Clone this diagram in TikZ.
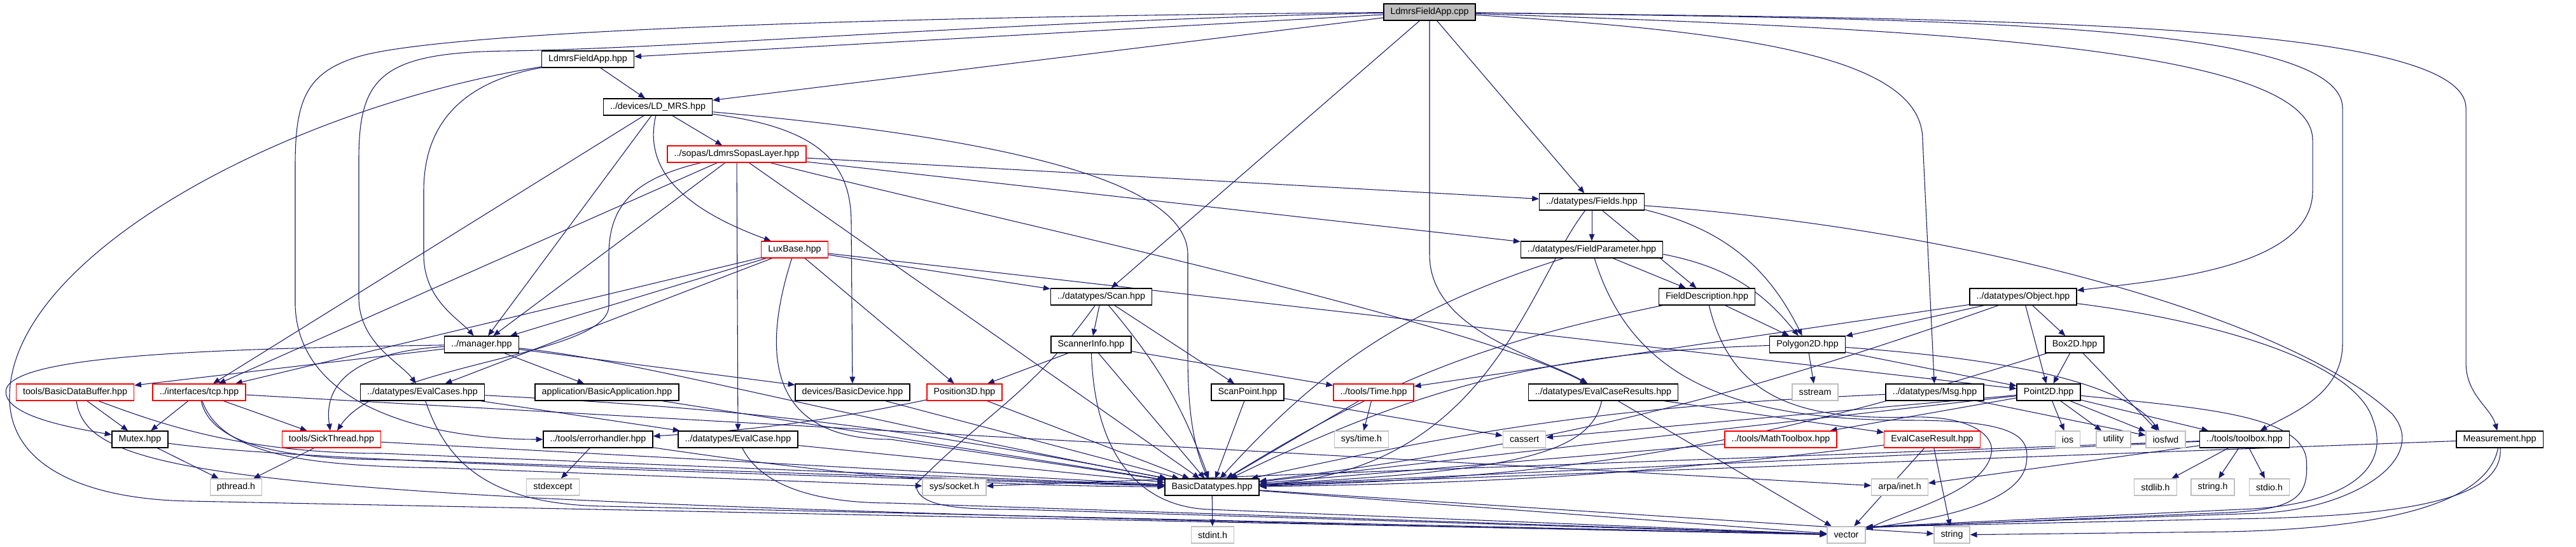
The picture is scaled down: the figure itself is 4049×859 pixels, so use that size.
\documentclass[tikz,border=0pt]{standalone}
\usepackage{fontspec}
\setmainfont{Liberation Sans}
\usetikzlibrary{arrows.meta,backgrounds}
\definecolor{edgeblue}{HTML}{191970}
\definecolor{sysgray}{HTML}{BFBFBF}

\begin{document}
\begin{tikzpicture}[->, >={Triangle[length=8pt,width=6.5pt]}, x=0.75pt, y=-0.75pt, font=\fontsize{10.7pt}{12pt}\selectfont]
	\tikzstyle{hdr}=[draw=black,fill=white,line width=1pt,inner xsep=8pt,inner ysep=0pt,minimum height=19.5pt,text=black]
	\tikzstyle{redhdr}=[hdr,draw=red]
	\tikzstyle{syshdr}=[hdr,draw=sysgray]
	\tikzstyle{roothdr}=[hdr,fill=sysgray]
	\tikzstyle{every edge}=[draw=edgeblue,line width=0.8pt]
	\tikzstyle{dep}=[draw=edgeblue,line width=0.8pt]
	\useasboundingbox (0,0) rectangle (4049,859);
	\node[roothdr]	(cpp)		at (2247,19)	{LdmrsFieldApp.cpp};
	\node[hdr]	(apphpp)	at (924,93)	{LdmrsFieldApp.hpp};
	\node[hdr]	(ldmrs)		at (1034,168)	{../devices/LD\_MRS.hpp};
	\node[redhdr]	(sopas)		at (1158,242)	{../sopas/LdmrsSopasLayer.hpp};
	\node[hdr]	(fields)	at (2502,317)	{../datatypes/Fields.hpp};
	\node[redhdr]	(luxbase)	at (1249,392)	{LuxBase.hpp};
	\node[hdr]	(fieldparam)	at (2502,392)	{../datatypes/FieldParameter.hpp};
	\node[hdr]	(scan)		at (1731,466)	{../datatypes/Scan.hpp};
	\node[hdr]	(fielddesc)	at (2683,466)	{FieldDescription.hpp};
	\node[hdr]	(object)	at (3180,466)	{../datatypes/Object.hpp};
	\node[hdr]	(manager)	at (757,541)	{../manager.hpp};
	\node[hdr]	(scannerinfo)	at (1715,541)	{ScannerInfo.hpp};
	\node[hdr]	(polygon)	at (2841,541)	{Polygon2D.hpp};
	\node[hdr]	(box)		at (3261,541)	{Box2D.hpp};
	\node[redhdr]	(databuffer)	at (118,616)	{tools/BasicDataBuffer.hpp};
	\node[redhdr]	(tcp)		at (313,616)	{../interfaces/tcp.hpp};
	\node[hdr]	(evalcases)	at (664,616)	{../datatypes/EvalCases.hpp};
	\node[hdr]	(basicapp)	at (954,616)	{application/BasicApplication.hpp};
	\node[hdr]	(basicdev)	at (1340,616)	{devices/BasicDevice.hpp};
	\node[redhdr]	(pos3d)		at (1516,616)	{Position3D.hpp};
	\node[hdr]	(scanpoint)	at (1961,616)	{ScanPoint.hpp};
	\node[redhdr]	(time)		at (2159,616)	{../tools/Time.hpp};
	\node[hdr]	(evalresults)	at (2520,616)	{../datatypes/EvalCaseResults.hpp};
	\node[syshdr]	(sstream)	at (2853,616)	{sstream};
	\node[hdr]	(msg)		at (3041,616)	{../datatypes/Msg.hpp};
	\node[hdr]	(point)		at (3220,616)	{Point2D.hpp};
	\node[hdr]	(mutex)		at (220,690)	{Mutex.hpp};
	\node[redhdr]	(sickthread)	at (521,690)	{tools/SickThread.hpp};
	\node[hdr]	(errhandler)	at (940,690)	{../tools/errorhandler.hpp};
	\node[hdr]	(evalcase)	at (1160,690)	{../datatypes/EvalCase.hpp};
	\node[syshdr]	(systime)	at (2140,690)	{sys/time.h};
	\node[syshdr]	(cassert)	at (2396,690)	{cassert};
	\node[redhdr]	(mathtb)	at (2799,690)	{../tools/MathToolbox.hpp};
	\node[redhdr]	(evalresult)	at (3037,690)	{EvalCaseResult.hpp};
	\node[syshdr]	(ios)		at (3250,690)	{ios};
	\node[syshdr]	(utility)	at (3322,690)	{utility};
	\node[syshdr]	(iosfwd)	at (3404,690)	{iosfwd};
	\node[hdr]	(toolbox)	at (3528,690)	{../tools/toolbox.hpp};
	\node[hdr]	(measurement)	at (3929,690)	{Measurement.hpp};
	\node[syshdr]	(pthread)	at (371,765)	{pthread.h};
	\node[syshdr]	(stdexcept)	at (869,765)	{stdexcept};
	\node[syshdr]	(socket)	at (1500,765)	{sys/socket.h};
	\node[hdr]	(basic)		at (1905,765)	{BasicDatatypes.hpp};
	\node[syshdr]	(arpa)		at (2986,765)	{arpa/inet.h};
	\node[syshdr]	(stdlib)	at (3388,765)	{stdlib.h};
	\node[syshdr]	(stringh)	at (3478,765)	{string.h};
	\node[syshdr]	(stdio)		at (3567,765)	{stdio.h};
	\node[syshdr]	(stdint)	at (1906,840)	{stdint.h};
	\node[syshdr]	(vector)	at (2902,840)	{vector};
	\node[syshdr]	(string)	at (3068,840)	{string};
	\begin{pgfonlayer}{background}
	\path
	(cpp) edge (apphpp)
	edge (ldmrs)
	edge (scan)
	edge (fields)
	(apphpp) edge (ldmrs)
	(ldmrs) edge (sopas)
	edge (manager)
	edge (tcp)
	(sopas) edge (manager)
	edge (tcp)
	edge (evalcase)
	edge (basic)
	edge (fields)
	edge (fieldparam)
	(luxbase) edge (manager)
	edge (tcp)
	edge (evalcases)
	edge (scan)
	edge (point)
	edge (pos3d)
	(fields) edge (fieldparam)
	edge (fielddesc)
	edge[bend left=25] (polygon)
	(fieldparam) edge (fielddesc)
	edge[bend left=20] (polygon)
	edge[bend right=15] (basic)
	(fielddesc) edge (polygon)
	edge[bend right=10] (basic)
	(scan) edge (scannerinfo)
	edge (scanpoint)
	edge[bend left=10] (basic)
	(scannerinfo) edge (pos3d)
	edge (time)
	edge (basic)
	(object) edge (box)
	edge (point)
	edge (polygon)
	edge (time)
	edge[bend left=6] (basic)
	(polygon) edge (point)
	edge[bend right=12] (basic)
	edge (sstream)
	(box) edge (point)
	edge[bend left=8] (basic)
	edge (iosfwd)
	(manager) edge (databuffer)
	edge (basicapp)
	edge (basicdev)
	(databuffer) edge (mutex)
	(tcp) edge (mutex)
	edge (sickthread)
	edge (arpa)
	(evalcases) edge (evalcase)
	edge[bend left=4] (basic)
	(basicapp) edge (basic)
	(basicdev) edge (basic)
	(pos3d) edge (basic)
	edge[bend left=4] (errhandler)
	(scanpoint) edge (basic)
	edge (cassert)
	(time) edge (systime)
	edge (basic)
	(evalresults) edge (evalresult)
	edge (vector)
	(msg) edge[bend right=5] (basic)
	edge (iosfwd)
	(point) edge (ios)
	edge (utility)
	edge (iosfwd)
	edge (toolbox)
	edge (cassert)
	edge (mathtb)
	edge (basic)
	(mutex) edge (pthread)
	(sickthread) edge (pthread)
	edge (basic)
	(errhandler) edge (stdexcept)
	edge[bend right=4] (basic)
	(evalcase) edge (basic)
	(mathtb) edge (basic)
	(evalresult) edge[bend left=3] (basic)
	edge (string)
	edge (vector)
	(toolbox) edge (stdlib)
	edge (stringh)
	edge (stdio)
	edge (arpa)
	edge (socket)
	edge (basic)
	(measurement) edge (basic)
	(basic) edge (stdint)
	edge (string)
	edge (vector);
	% long ways round
	\draw[dep] (cpp) .. controls (1500,25) and (700,45) .. (560,90) .. controls (480,115) and (464,160) .. (464,260) -- (464,480) .. controls (470,650) and (700,690) .. (errhandler);
	\draw[dep] (cpp) .. controls (1600,32) and (1100,75) .. (800,80) .. controls (600,82) and (564,120) .. (564,250) -- (564,470) .. controls (566,540) and (630,570) .. (evalcases);
	\draw[dep] (cpp) -- (2247,400) .. controls (2247,520) and (2420,560) .. (evalresults);
	\draw[dep] (cpp) .. controls (2750,50) and (3022,90) .. (3022,220) -- (msg);
	\draw[dep] (cpp) .. controls (3000,45) and (3635,70) .. (3635,220) -- (3635,300) .. controls (3635,420) and (3400,440) .. (object);
	\draw[dep] (cpp) .. controls (3000,30) and (3682,30) .. (3682,170) -- (3682,540) .. controls (3682,620) and (3600,650) .. (toolbox);
	\draw[dep] (cpp) .. controls (3100,30) and (3876,30) .. (3876,170) -- (3876,570) .. controls (3876,620) and (3915,640) .. (measurement);
	\draw[dep] (apphpp) .. controls (720,130) and (666,200) .. (666,300) -- (666,400) .. controls (666,470) and (720,500) .. (manager);
	\draw[dep] (apphpp) .. controls (450,170) and (20,400) .. (15,620) .. controls (12,740) and (150,785) .. (300,787) -- (vector);
	\draw[dep] (ldmrs) .. controls (1010,270) and (1080,330) .. (luxbase);
	\draw[dep] (ldmrs) .. controls (1280,200) and (1338,250) .. (1338,350) -- (basicdev);
	\draw[dep] (ldmrs) .. controls (1500,210) and (1867,270) .. (1867,400) -- (1867,560) .. controls (1867,660) and (1880,710) .. (basic);
	\draw[dep] (sopas) .. controls (1000,280) and (957,320) .. (957,400) -- (957,480) .. controls (957,560) and (600,570) .. (sickthread);
	\draw[dep] (sopas) .. controls (1500,330) and (2300,500) .. (evalresults);
	\draw[dep] (luxbase) .. controls (1195,560) and (1210,690) .. (1400,690) -- (basic);
	\draw[dep] (fields) .. controls (2400,450) and (2340,740) .. (basic);
	\draw[dep] (fields) .. controls (3100,360) and (3600,500) .. (3760,650) .. controls (3820,720) and (3700,800) .. (3550,806) -- (vector.22);
	\draw[dep] (object) .. controls (3450,500) and (3700,560) .. (3730,660) .. controls (3760,740) and (3680,795) .. (3520,800) -- (vector.22);
	\draw[dep] (point) .. controls (3450,640) and (3615,650) .. (3625,720) .. controls (3630,780) and (3610,800) .. (3500,805) -- (vector.20);
	\draw[dep] (fieldparam) .. controls (2560,580) and (2700,660) .. (3000,660) .. controls (3180,660) and (3190,690) .. (3185,727) .. controls (3175,800) and (3000,820) .. (vector.18);
	\draw[dep] (fielddesc) .. controls (2720,620) and (2820,660) .. (3000,655) .. controls (3110,652) and (3135,690) .. (3130,712) .. controls (3120,770) and (3000,800) .. (vector.15);
	\draw[dep] (polygon) .. controls (3100,560) and (3330,590) .. (iosfwd);
	\draw[dep] (measurement) .. controls (3910,790) and (3750,830) .. (3500,835) -- (string);
	\draw[dep] (measurement) .. controls (3935,780) and (3800,812) .. (3500,815) -- (vector.22);
	\draw[dep] (manager) .. controls (300,548) and (30,560) .. (10,610) .. controls (0,650) and (100,670) .. (mutex);
	\draw[dep] (manager) .. controls (600,550) and (505,580) .. (sickthread);
	\draw[dep] (manager) .. controls (1000,565) and (1300,650) .. (basic);
	\draw[dep] (databuffer) .. controls (250,665) and (380,712) .. (600,712) -- (basic);
	\draw[dep] (databuffer) .. controls (140,760) and (400,790) .. (vector);
	\draw[dep] (tcp) .. controls (330,690) and (420,722) .. (620,722) -- (basic);
	\draw[dep] (tcp) .. controls (350,720) and (500,732) .. (700,735) -- (socket);
	\draw[dep] (mutex) .. controls (400,715) and (800,735) .. (basic);
	\draw[dep] (evalcases) .. controls (700,720) and (760,792) .. (950,795) -- (vector);
	\draw[dep] (evalcase) .. controls (1200,770) and (1300,790) .. (1400,790) -- (vector);
	\draw[dep] (scan) .. controls (1620,620) and (1560,640) .. (1440,760) .. controls (1440,795) and (1500,800) .. (1600,800) -- (vector);
	\draw[dep] (scannerinfo) .. controls (1720,700) and (1780,795) .. (1900,800) -- (vector);
	\draw[dep] (evalresults) .. controls (2500,720) and (2350,740) .. (basic);
	\end{pgfonlayer}
\end{tikzpicture}
\end{document}
